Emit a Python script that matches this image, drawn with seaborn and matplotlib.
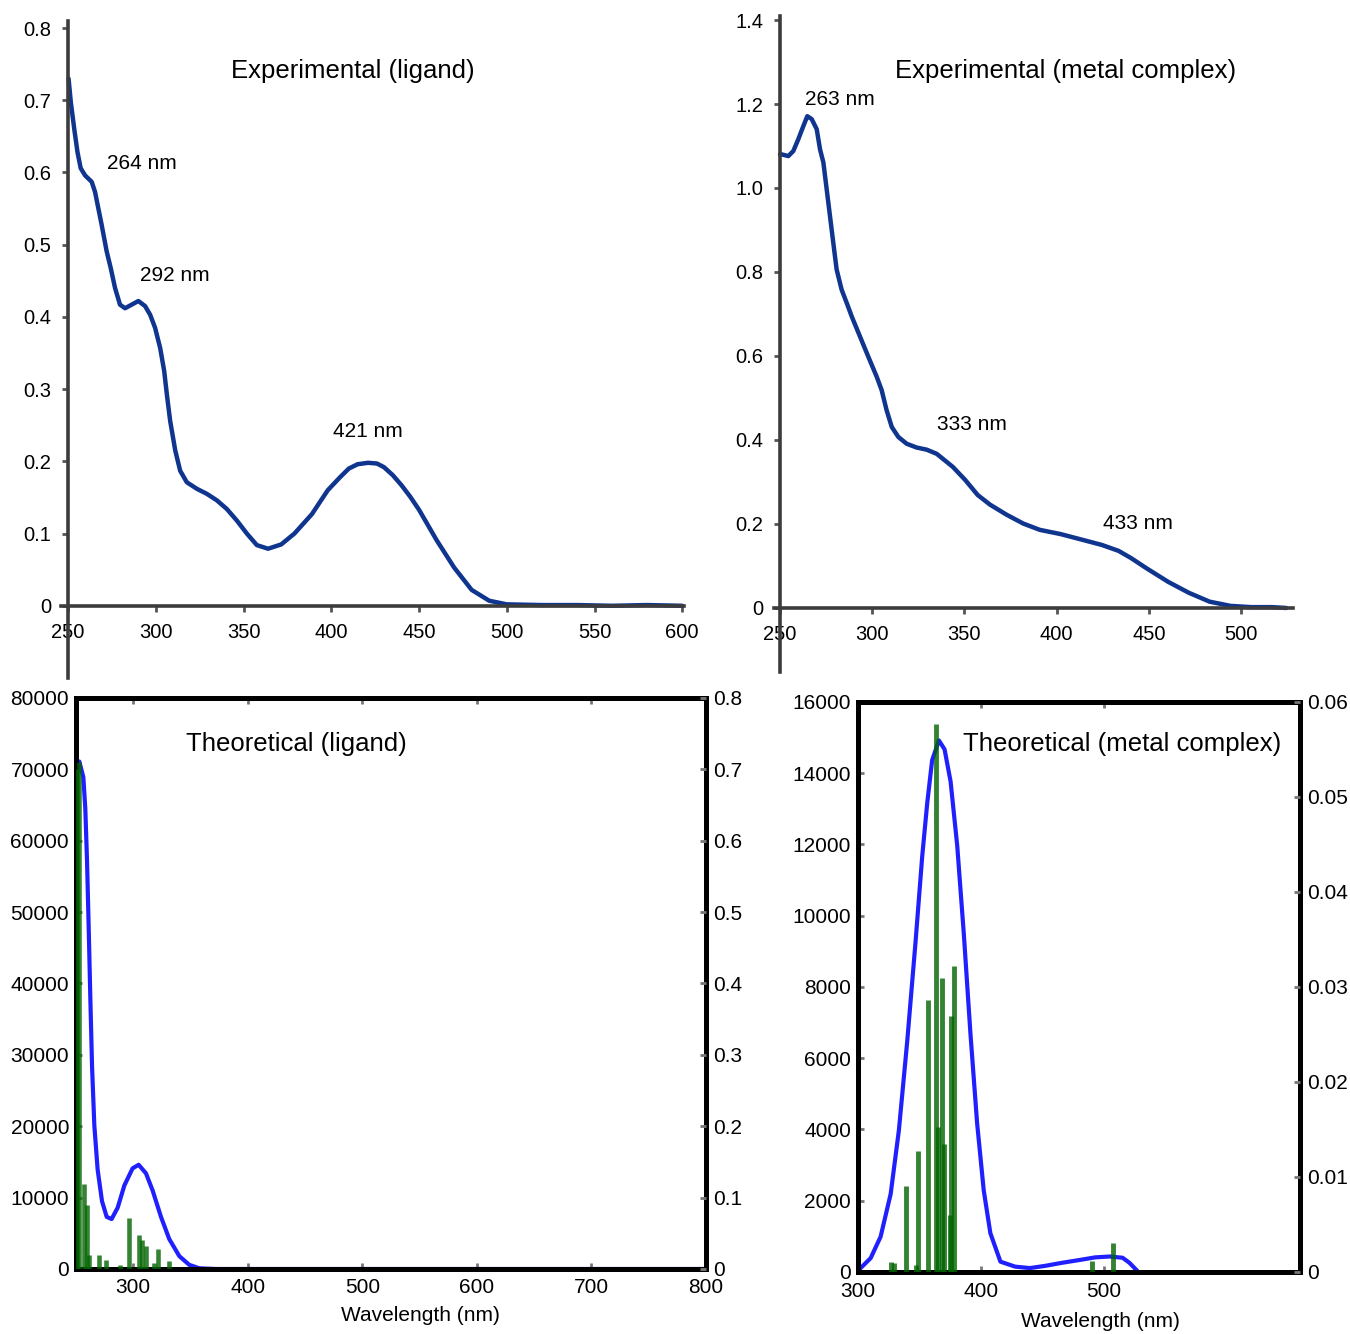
import matplotlib
matplotlib.use('Agg')
import matplotlib.pyplot as plt
import seaborn as sns

sns.set_theme(style='white')
plt.rcParams['font.family'] = ['Liberation Sans', 'DejaVu Sans']
plt.rcParams['text.color'] = 'black'
plt.rcParams['axes.labelcolor'] = 'black'
plt.rcParams['xtick.labelcolor'] = 'black'
plt.rcParams['ytick.labelcolor'] = 'black'
plt.rcParams['lines.solid_joinstyle'] = 'round'
plt.rcParams['lines.solid_capstyle'] = 'round'

# ---------------- data ----------------
# Experimental (ligand)
exp_lig_wl = [250.3, 251.6, 253.5, 255.4, 257.2, 259.7, 263.5, 265.4, 267.3, 269.2, 272, 274.3,
              276.8, 279.6, 282.5, 286.3, 290.1, 293.9, 296.8, 299.6, 302.5, 304.8, 306.3,
              308.2, 311.1, 313.9, 317.7, 323.4, 329.1, 334.8, 340.5, 346.2, 351.9, 357.6,
              364, 371.5, 379, 389, 398, 405, 410, 415, 421, 426, 430, 435, 440, 445, 450,
              460, 470, 480, 490, 500, 520, 540, 560, 580, 600]
exp_lig_abs = [0.730, 0.697, 0.661, 0.628, 0.606, 0.596, 0.587, 0.573, 0.550, 0.527, 0.491,
               0.468, 0.440, 0.417, 0.412, 0.417, 0.422, 0.415, 0.403, 0.385, 0.357, 0.325,
               0.293, 0.256, 0.215, 0.187, 0.171, 0.162, 0.155, 0.146, 0.134, 0.118, 0.100,
               0.084, 0.079, 0.085, 0.100, 0.127, 0.160, 0.178, 0.190, 0.196, 0.198, 0.197,
               0.192, 0.181, 0.167, 0.151, 0.133, 0.091, 0.053, 0.022, 0.007, 0.002, 0.001,
               0.001, 0.000, 0.001, 0.000]
exp_lig_peaks = ["264 nm", "292 nm", "421 nm"]
exp_lig_peak_pos = [(272, 0.613), (291, 0.457), (401, 0.242)]

# Experimental (metal complex)
exp_met_wl = [250, 250.9, 254.5, 257.2, 259.9, 262.7, 264.8, 267.2, 269.9, 271.7, 273.5,
              275.3, 277.1, 278.9, 280.7, 283.4, 286.2, 288.9, 293.4, 297.9, 302.4, 305.1,
              307.8, 310.6, 314.2, 318.7, 324.1, 329.5, 335, 343.7, 350.4, 357.2, 363.9,
              372.9, 381.9, 390.9, 402.1, 413.4, 424.6, 433.6, 440.3, 449.3, 460.6, 471.8,
              483, 494.3, 505.5, 516.7, 524.6]
exp_met_abs = [1.080, 1.080, 1.076, 1.088, 1.116, 1.148, 1.171, 1.164, 1.140, 1.092, 1.061,
               0.997, 0.933, 0.869, 0.806, 0.758, 0.726, 0.694, 0.646, 0.598, 0.551, 0.519,
               0.471, 0.431, 0.407, 0.391, 0.382, 0.377, 0.367, 0.336, 0.305, 0.269, 0.246,
               0.222, 0.201, 0.186, 0.176, 0.163, 0.150, 0.136, 0.119, 0.093, 0.062, 0.036,
               0.015, 0.005, 0.002, 0.002, 0.000]
exp_met_peaks = ["263 nm", "333 nm", "433 nm"]
exp_met_peak_pos = [(263.6, 1.21), (335.1, 0.438), (425.2, 0.200)]

# Theoretical (ligand)
theo_lig_wl = [250, 252.9, 256.4, 258.1, 259.6, 261.1, 262.5, 264, 266, 268.9, 272.7, 276.8,
               281.1, 286.4, 292.2, 299.4, 304.7, 311.1, 316.9, 324.2, 331.4, 340.2, 348.9,
               357.6, 372, 400, 500, 600, 700, 800]
theo_lig_eps = [70500, 71100, 68900, 64600, 57300, 47700, 38000, 28400, 20100, 13900, 9500,
                7300, 7000, 8600, 11700, 14100, 14600, 13400, 11000, 7300, 4200, 1800, 580,
                100, 0, 0, 0, 0, 0, 0]
lig_stick_wl = [250.8, 252.3, 257.3, 259.3, 261, 269.8, 276.2, 288.4, 296, 305.3, 307.5,
                311.1, 318.4, 321.3, 331.4]
lig_stick_f = [0.70, 0.71, 0.119, 0.090, 0.020, 0.020, 0.013, 0.006, 0.071, 0.047, 0.040,
               0.032, 0.008, 0.0275, 0.0106]

# Theoretical (metal complex)
theo_met_wl = [300, 300.1, 310.3, 318.4, 326.6, 333.3, 340.1, 346.9, 352.3, 356.4, 360.4,
               365.9, 370.5, 375.4, 380.8, 386.2, 391.6, 397, 402.4, 407.8, 416, 428, 440,
               452, 466.5, 481, 493, 505, 515.5, 521, 527.5]
theo_met_eps = [30, 40, 390, 990, 2190, 3980, 6480, 9280, 11670, 13170, 14370, 14920, 14670,
                13770, 11970, 9480, 6680, 4180, 2290, 1090, 290, 150, 110, 170, 260, 340,
                410, 435, 400, 260, 30]
met_stick_wl = [326.8, 329, 338.8, 346.9, 349.1, 356.9, 363.5, 364.9, 368.3, 370.2, 374.8,
                375.6, 377.8, 490.2, 507.4]
met_stick_f = [0.0011, 0.0009, 0.0090, 0.0007, 0.0127, 0.0286, 0.0577, 0.0153, 0.0309,
               0.0135, 0.0060, 0.0269, 0.0322, 0.0012, 0.0031]

# tick labels
exp_lig_xticks = [250, 300, 350, 400, 450, 500, 550, 600]
exp_lig_yticks = [0, 0.1, 0.2, 0.3, 0.4, 0.5, 0.6, 0.7, 0.8]
exp_lig_ylabels = ["0", "0.1", "0.2", "0.3", "0.4", "0.5", "0.6", "0.7", "0.8"]
exp_met_xticks = [250, 300, 350, 400, 450, 500]
exp_met_yticks = [0, 0.2, 0.4, 0.6, 0.8, 1.0, 1.2, 1.4]
exp_met_ylabels = ["0", "0.2", "0.4", "0.6", "0.8", "1.0", "1.2", "1.4"]
theo_lig_xticks = [300, 400, 500, 600, 700, 800]
theo_lig_yticks = [0, 10000, 20000, 30000, 40000, 50000, 60000, 70000, 80000]
theo_lig_rticks = [0, 0.1, 0.2, 0.3, 0.4, 0.5, 0.6, 0.7, 0.8]
theo_lig_rlabels = ["0", "0.1", "0.2", "0.3", "0.4", "0.5", "0.6", "0.7", "0.8"]
theo_met_xticks = [300, 400, 500]
theo_met_yticks = [0, 2000, 4000, 6000, 8000, 10000, 12000, 14000, 16000]
theo_met_rticks = [0, 0.01, 0.02, 0.03, 0.04, 0.05, 0.06]
theo_met_rlabels = ["0", "0.01", "0.02", "0.03", "0.04", "0.05", "0.06"]

# ---------------- figure ----------------
fig = plt.figure(figsize=(13.5, 13.34), dpi=100)
ax1 = fig.add_axes([0.04519, 0.49175, 0.46148, 0.49265])
ax2 = fig.add_axes([0.57370, 0.49640, 0.38378, 0.49175])
ax3 = fig.add_axes([0.05630, 0.04873, 0.46667, 0.42804])
ax4 = fig.add_axes([0.63556, 0.04648, 0.32741, 0.42729])

EXP_COLOR = '#10358f'
THEO_COLOR = '#2020ff'
STICK_COLOR = '#006400'
TS = 14.5


def style_exp(ax, xlim, ylim, xticks, yticks, ylabels):
    ax.set_facecolor('none')
    ax.set_xlim(*xlim)
    ax.set_ylim(*ylim)
    ax.spines['top'].set_visible(False)
    ax.spines['right'].set_visible(False)
    ax.spines['left'].set_position(('data', xticks[0]))
    ax.spines['bottom'].set_position(('data', 0))
    for s in ['left', 'bottom']:
        ax.spines[s].set_linewidth(2.6)
        ax.spines[s].set_color('#3c3c3c')
    ax.set_xticks(xticks)
    ax.set_xticklabels([str(t) for t in xticks])
    ax.set_yticks(yticks)
    ax.set_yticklabels(ylabels)
    ax.tick_params(axis='both', direction='out', length=4, width=2, color='#555555',
                   labelsize=TS, bottom=True, left=True)
    ax.tick_params(axis='x', pad=8.5)
    ax.tick_params(axis='y', pad=8)
    ax.set_xlabel('')
    ax.set_ylabel('')


# Panel 1
sns.lineplot(x=exp_lig_wl, y=exp_lig_abs, ax=ax1, color=EXP_COLOR, linewidth=3.2,
             estimator=None)
style_exp(ax1, (246, 601), (-0.1, 0.81), exp_lig_xticks, exp_lig_yticks, exp_lig_ylabels)
ax1.text(412.5, 0.740, "Experimental (ligand)", ha='center', va='center', fontsize=18.5)
for lab, (px, py) in zip(exp_lig_peaks, exp_lig_peak_pos):
    ax1.text(px, py, lab, ha='left', va='center', fontsize=15)

# Panel 2
sns.lineplot(x=exp_met_wl, y=exp_met_abs, ax=ax2, color=EXP_COLOR, linewidth=3.2,
             estimator=None)
style_exp(ax2, (247, 528), (-0.152, 1.41), exp_met_xticks, exp_met_yticks, exp_met_ylabels)
ax2.text(404.6, 1.279, "Experimental (metal complex)", ha='center', va='center', fontsize=18.5)
for lab, (px, py) in zip(exp_met_peaks, exp_met_peak_pos):
    ax2.text(px, py, lab, ha='left', va='center', fontsize=15)


def style_theo(ax, axr, xlim, ylim, rlim, xticks, yticks, rticks, rlabels, title, title_x,
               title_y, xlabel_x, xlabel_y, xpad):
    ax.set_xlim(*xlim)
    ax.set_ylim(*ylim)
    axr.set_ylim(*rlim)
    for s in ax.spines.values():
        s.set_linewidth(3.6)
        s.set_color('black')
    for s in axr.spines.values():
        s.set_visible(False)
    ax.set_xticks(xticks)
    ax.set_xticklabels([str(t) for t in xticks])
    ax.set_yticks(yticks)
    ax.set_yticklabels([str(t) for t in yticks])
    axr.set_yticks(rticks)
    axr.set_yticklabels(rlabels)
    ax.tick_params(axis='both', direction='in', length=4, width=2, color='#777777',
                   labelsize=15, bottom=True, top=True, left=True)
    ax.tick_params(axis='x', pad=xpad)
    ax.tick_params(axis='y', pad=5)
    axr.tick_params(axis='y', direction='in', length=4, width=2, color='#777777',
                    labelsize=15, right=True, pad=5)
    ax.set_ylabel('')
    axr.set_ylabel('')
    ax.set_xlabel("Wavelength (nm)", fontsize=15)
    ax.xaxis.label.set_va('center')
    ax.xaxis.set_label_coords(xlabel_x, xlabel_y)
    ax.text(title_x, title_y, title, transform=ax.transAxes, ha='center', va='center',
            fontsize=18.5)


# Panel 3
ax3b = ax3.twinx()
sns.lineplot(x=theo_lig_wl, y=theo_lig_eps, ax=ax3, color=THEO_COLOR, linewidth=3,
             estimator=None)
ax3b.vlines(lig_stick_wl, 0, lig_stick_f, colors=STICK_COLOR, linewidth=3.3, alpha=0.8)
style_theo(ax3, ax3b, (250, 800), (0, 80000), (0, 0.8), theo_lig_xticks, theo_lig_yticks,
           theo_lig_rticks, theo_lig_rlabels, "Theoretical (ligand)", 0.349, 0.919,
           0.546, -0.0823, 6.5)

# Panel 4
ax4b = ax4.twinx()
sns.lineplot(x=theo_met_wl, y=theo_met_eps, ax=ax4, color=THEO_COLOR, linewidth=3,
             estimator=None)
ax4b.vlines(met_stick_wl, 0, met_stick_f, colors=STICK_COLOR, linewidth=3.5, alpha=0.8)
style_theo(ax4, ax4b, (300, 660), (0, 16000), (0, 0.06), theo_met_xticks, theo_met_yticks,
           theo_met_rticks, theo_met_rlabels, "Theoretical (metal complex)", 0.597, 0.926,
           0.5475, -0.0877, 7)

fig.savefig('out.png', dpi=100)
